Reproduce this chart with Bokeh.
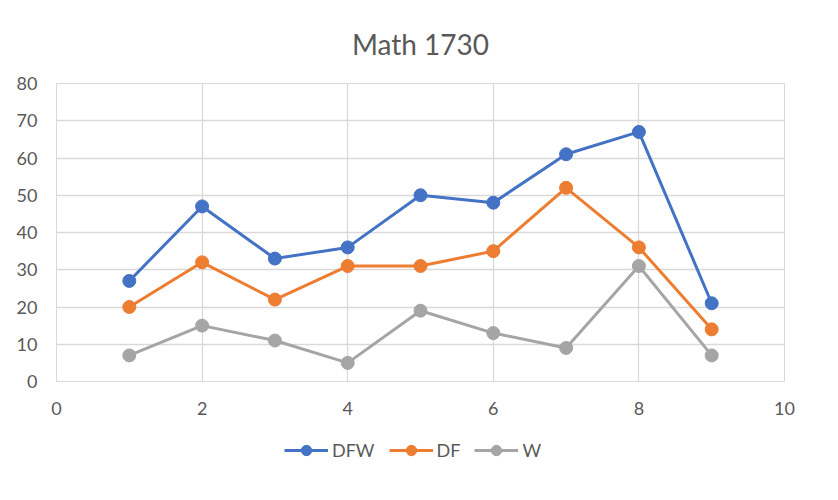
from bokeh.plotting import figure
from bokeh.models import Legend, LegendItem, SingleIntervalTicker, Range1d
from bokeh.layouts import column
from bokeh.embed import file_html
from bokeh.resources import INLINE

x_vals = [1, 2, 3, 4, 5, 6, 7, 8, 9]
dfw = [27, 47, 33, 36, 50, 48, 61, 67, 21]
df = [20, 32, 22, 31, 31, 35, 52, 36, 14]
w = [7, 15, 11, 5, 19, 13, 9, 31, 7]
series_names = ["DFW", "DF", "W"]
colors = ["#4472C4", "#ED7D31", "#A5A5A5"]

FONT = "Lato"
TXT = "#595959"
GRID = "#D9D9D9"

p = figure(width=822, height=420, output_backend="svg", toolbar_location=None,
           x_range=Range1d(0, 10), y_range=Range1d(0, 80),
           min_border_left=56, min_border_right=38, min_border_top=83, min_border_bottom=39)
p.outline_line_color = GRID
p.border_fill_color = "white"

p.title.text = "Math 1730"
p.title.align = "center"
p.title.text_font = FONT
p.title.text_font_size = "28px"
p.title.text_font_style = "normal"
p.title.text_color = TXT
p.title.offset = 0
p.title.standoff = 46

p.xaxis.ticker = SingleIntervalTicker(interval=2)
p.yaxis.ticker = SingleIntervalTicker(interval=10)
for ax in (p.xaxis[0], p.yaxis[0]):
    ax.axis_line_color = None
    ax.major_tick_line_color = None
    ax.minor_tick_line_color = None
    ax.major_label_text_font = FONT
    ax.major_label_text_font_size = "18px"
    ax.major_label_text_color = TXT
p.xaxis.major_label_standoff = 14
p.yaxis.major_label_standoff = 13

p.xgrid.ticker = SingleIntervalTicker(interval=2)
p.ygrid.ticker = SingleIntervalTicker(interval=10)
p.xgrid.grid_line_color = GRID
p.ygrid.grid_line_color = GRID
p.xgrid.grid_line_width = 1.3
p.ygrid.grid_line_width = 1.3

for name, ys, c in zip(series_names, [dfw, df, w], colors):
    p.line(x_vals, ys, line_color=c, line_width=3)
    p.scatter(x_vals, ys, size=13, fill_color=c, line_color=c)

# separate strip holding the legend below the chart
lg = figure(width=822, height=64, output_backend="svg", toolbar_location=None,
            x_range=Range1d(0, 1), y_range=Range1d(0, 1),
            min_border=0, x_axis_type=None, y_axis_type=None)
lg.outline_line_color = None
lg.grid.visible = False
items = []
for name, ys, c in zip(series_names, [dfw, df, w], colors):
    l = lg.line(x_vals, ys, line_color=c, line_width=3, visible=False)
    s = lg.scatter(x_vals, ys, size=13, fill_color=c, line_color=c, visible=False)
    items.append(LegendItem(label=name, renderers=[l, s]))

legend = Legend(items=items, orientation="horizontal", location=(228, 21),
                label_text_font=FONT, label_text_font_size="18px", label_text_color=TXT,
                glyph_width=44, glyph_height=26, spacing=14, label_standoff=4,
                border_line_color=None, background_fill_alpha=0, margin=0, padding=0)
lg.add_layout(legend, "center")

layout = column(p, lg, spacing=0)
open("out.html", "w").write(file_html(layout, INLINE))
